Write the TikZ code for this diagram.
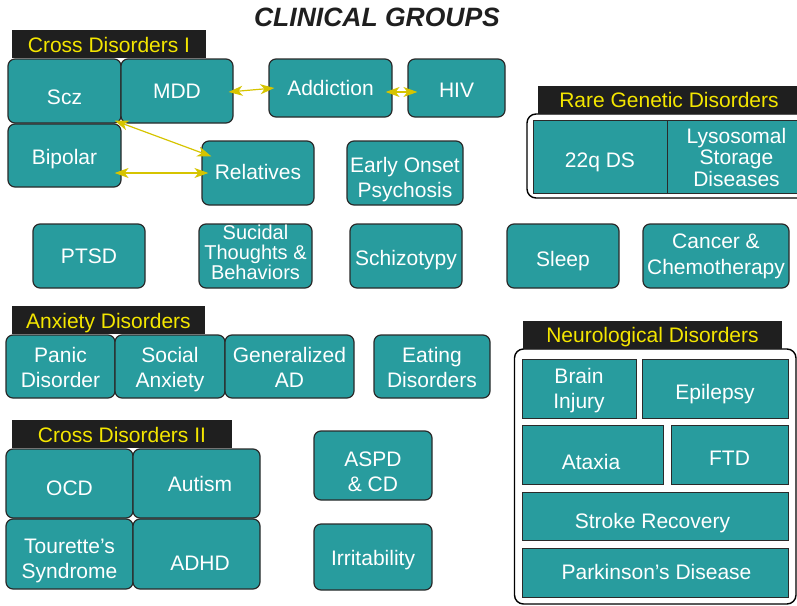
\documentclass[tikz,border=0pt]{standalone}
\usepackage{fontspec}
\setmainfont{Liberation Sans}
\usetikzlibrary{arrows.meta}

\definecolor{groupteal}{HTML}{289C9E}
\definecolor{boxedge}{HTML}{2A2A2A}
\definecolor{headbg}{HTML}{1F1F1F}
\definecolor{headtext}{HTML}{F4E600}
\definecolor{linkyellow}{HTML}{D6C400}

\newlength\boxdrop
\newlength\boxdx

% a box given by its corners: [style]{name}{x1}{y1}{x2}{y2}{text}
\newcommand\gbox[7][]{%
  \node[cbox,#1,minimum width={#5-#3},minimum height={#6-#4}]
    (#2) at ({(#3+#5)/2},{(#4+#6)/2})
    {\hspace*{\boxdx}\raisebox{-\boxdrop}[\height][\depth]{%
      \begin{tabular}{@{}c@{}}#7\end{tabular}}};}

\tikzset{
  drop/.code={\setlength\boxdrop{#1}},
  dx/.code={\setlength\boxdx{#1}},
  cbox/.style={draw=boxedge, line width=1.2pt, fill=groupteal, rounded corners=7pt,
    text=white, inner sep=0pt, drop=0pt, dx=0pt,
    font=\fontsize{21}{25}\selectfont},
  sqbox/.style={rounded corners=0pt, line width=1pt},
  headbox/.style={fill=headbg, text=headtext, draw=none, rounded corners=0pt,
    font=\fontsize{21}{24}\selectfont},
  frame/.style={draw=black, line width=1.4pt, fill=white, rounded corners=9pt},
  link/.style={draw=linkyellow, line width=1.2pt,
    {Stealth[length=14pt,width=10pt,inset=4pt]}-{Stealth[length=14pt,width=10pt,inset=4pt]}}
}

\begin{document}
\begin{tikzpicture}[x=1pt,y=-1pt]
\useasboundingbox (0,0) rectangle (797,605);

% title
\node[font=\fontsize{26.5}{28}\selectfont\bfseries\itshape, text=headbg] (title)
  at (377,17) {CLINICAL GROUPS};

% group frames
\draw[frame] (527,114) rectangle (812,198);
\draw[frame] (514.5,349) rectangle (796,604);

% group headers
\gbox[headbox,drop=4pt]{hcross}{12}{30}{206}{58}{Cross Disorders I}
\gbox[headbox,drop=3pt]{hrare}{538}{86}{800}{114}{Rare Genetic Disorders}
\gbox[headbox,drop=4pt]{hanx}{12}{306}{205}{334}{Anxiety Disorders}
\gbox[headbox,drop=4pt]{hcrossb}{12}{420}{232}{448}{Cross Disorders II}
\gbox[headbox,drop=3pt]{hneuro}{523}{321}{782}{349}{Neurological Disorders}

% cross disorders I
\gbox[drop=8pt]{scz}{8}{59}{121}{123}{Scz}
\gbox[drop=2pt]{mdd}{121}{59}{233}{123}{MDD}
\gbox[drop=4pt]{bipolar}{8}{124}{121}{187}{Bipolar}
\gbox[drop=2pt]{addiction}{269}{59}{392}{117}{Addiction}
\gbox[drop=4pt]{hiv}{408}{59}{505}{117}{HIV}
\gbox[drop=1.5pt]{relatives}{202}{141}{314}{205}{Relatives}
\gbox[drop=7pt]{eop}{347}{141}{463}{205}{Early Onset\\Psychosis}

% rare genetic disorders
\gbox[sqbox,drop=6pt]{q22}{533}{120}{667}{193}{22q DS}
\gbox[sqbox,font=\fontsize{21}{21}\selectfont,drop=4pt]{lsd}{667}{120}{806}{193}{Lysosomal\\Storage\\Diseases}

% middle row
\gbox[drop=2pt]{ptsd}{33}{224}{145}{288}{PTSD}
\gbox[font=\fontsize{20}{18}\selectfont,drop=-1pt]{stb}{199}{224}{312}{288}{Sucidal\\Thoughts \&\\Behaviors}
\gbox[drop=4pt]{schizo}{350}{224}{462}{288}{Schizotypy}
\gbox[drop=5pt]{sleep}{507}{224}{619}{288}{Sleep}
\gbox[font=\fontsize{21}{26}\selectfont,drop=0pt]{cancer}{643}{224}{789}{288}{Cancer \&\\Chemotherapy}

% anxiety disorders
\gbox[drop=3.5pt]{panic}{6}{335}{115}{398}{Panic\\Disorder}
\gbox[drop=3pt]{social}{115}{335}{225}{398}{Social\\Anxiety}
\gbox[drop=3.5pt]{gad}{225}{335}{354}{398}{Generalized\\AD}
\gbox[drop=3.5pt]{eating}{374}{335}{490}{398}{Eating\\Disorders}

% cross disorders II
\gbox[drop=7pt]{ocd}{6}{449}{133}{518}{OCD}
\gbox[drop=3pt,dx=7pt]{autism}{133}{449}{260}{518}{Autism}
\gbox[drop=7pt]{tourette}{6}{519}{133}{589}{Tourette’s\\Syndrome}
\gbox[drop=11pt,dx=7pt]{adhd}{133}{519}{260}{589}{ADHD}
\gbox[drop=8pt]{aspd}{314}{431}{432}{500}{ASPD\\\& CD}
\gbox[drop=3pt]{irrit}{314}{524}{432}{590}{Irritability}

% neurological disorders
\gbox[sqbox,drop=2pt]{brain}{522}{359}{636}{418}{Brain\\Injury}
\gbox[sqbox,drop=6pt]{epilepsy}{642}{359}{788}{418}{Epilepsy}
\gbox[sqbox,drop=10pt,dx=-3pt]{ataxia}{522}{425}{663}{484}{Ataxia}
\gbox[sqbox,drop=6pt]{ftd}{671}{425}{788}{484}{FTD}
\gbox[sqbox,drop=7pt,dx=-5pt]{stroke}{522}{492}{788}{540}{Stroke Recovery}
\gbox[sqbox,drop=2pt,dx=3pt]{parkinson}{522}{548}{788}{597}{Parkinson’s Disease}

% links between groups
\draw[link] ([shift={(-5,1)}]mdd.east) -- ([xshift=6]addiction.west);
\draw[link] ([shift={(-7,4)}]addiction.east) -- ([shift={(10,4)}]hiv.west);
\draw[link] ([shift={(-7,-3)}]scz.south east) -- ([shift={(10,16)}]relatives.north west);
\draw[link] ([shift={(-7,17.5)}]bipolar.east) -- ([xshift=7]relatives.west);
\end{tikzpicture}
\end{document}
